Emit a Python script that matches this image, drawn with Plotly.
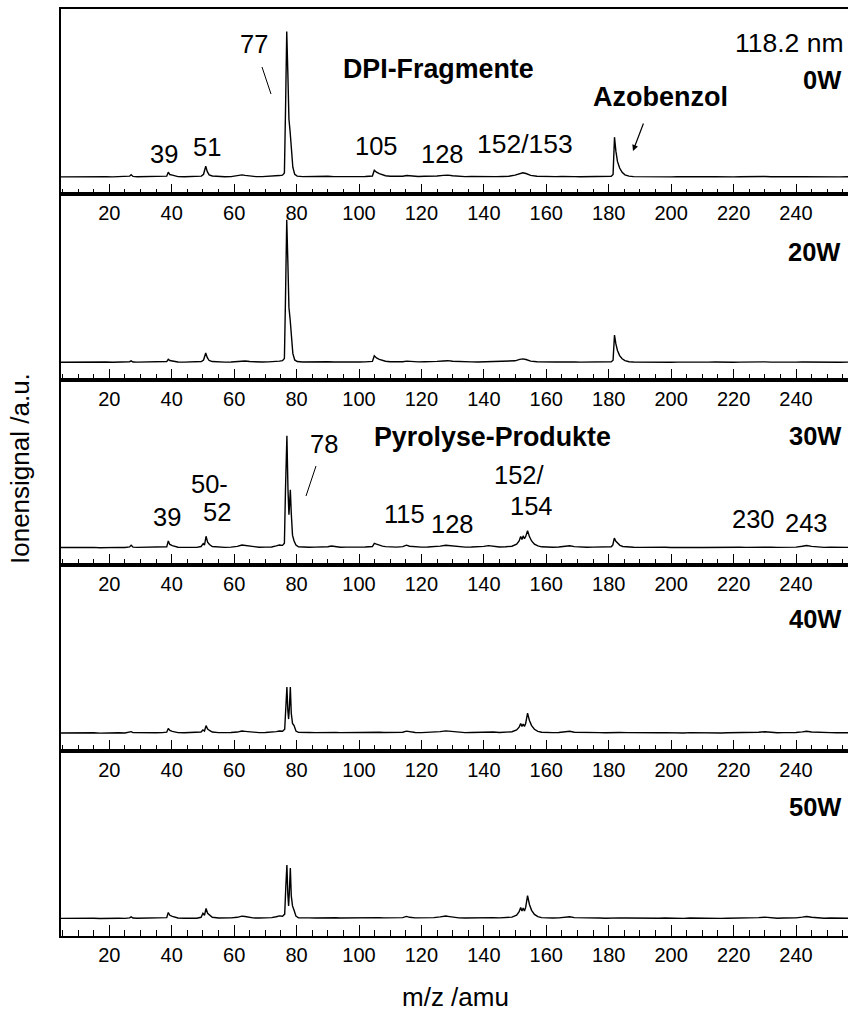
import plotly.graph_objects as go

# ---------------------------------------------------------------- data
MZ_RANGE = (4.53, 256.66)
INT_RANGE = (-11.6, 115.4)
PANEL_LABELS = ["0W", "20W", "30W", "40W", "50W"]
MAJOR_TICKS = [20, 40, 60, 80, 100, 120, 140, 160, 180, 200, 220, 240]

# (m/z, ion signal) pairs, signal normalised to the 0W m/z 77 peak = 100
SPEC_0W = [
    (4.5, 0.4), (7, 0.5), (9, 0.3), (11, 0.5), (13, 0.4), (15, 0.6), (17, 0.4), (19, 0.5),
    (21, 0.4), (23, 0.6), (25, 0.5), (26.5, 0.9), (27, 1.9), (27.6, 0.7), (29, 0.5), (31, 0.6),
    (33, 0.4), (35, 0.6), (37, 0.5), (38.4, 0.9), (38.9, 3.6), (39.4, 2.0), (40.2, 1.6),
    (41, 1.0), (42, 0.6), (44, 0.5), (46, 0.6), (48, 0.5), (49.5, 0.9), (50.2, 2.2),
    (50.9, 7.7), (51.4, 4.0), (52, 1.8), (53, 1.0), (55, 0.6), (57, 0.5), (59, 0.6),
    (61, 1.0), (62.5, 1.8), (63.5, 1.4), (65, 1.0), (67, 0.6), (69, 0.6), (71, 0.7),
    (73, 0.8), (74.5, 1.3), (75.5, 1.6), (76.1, 3.0), (76.45, 45), (76.85, 100), (77.2, 72),
    (77.55, 40), (77.95, 31), (78.35, 19), (78.8, 7), (79.4, 2.2), (80.2, 0.9), (82, 0.6),
    (84, 0.7), (86, 0.5), (88, 0.6), (90, 0.8), (92, 0.6), (94, 0.5), (96, 0.6), (98, 0.5),
    (100, 0.6), (102, 0.7), (104.3, 1.0), (104.9, 5.0), (105.6, 3.6), (106.5, 2.6),
    (107.5, 1.8), (108.5, 1.2), (110, 0.8), (112, 0.7), (114, 0.8), (115.3, 1.3), (117, 0.9),
    (119, 0.7), (121, 0.8), (123, 0.7), (125, 1.0), (127, 1.4), (128.5, 1.6), (130, 1.2),
    (132, 0.8), (134, 0.6), (136, 0.7), (138, 0.6), (140, 0.7), (142, 0.8), (144, 0.6),
    (146, 0.7), (148, 0.8), (150, 1.6), (151.5, 2.8), (152.5, 3.2), (153.5, 2.7), (155, 1.4),
    (157, 0.8), (159, 0.6), (161, 0.7), (163, 0.6), (165, 0.7), (167, 0.9), (169, 0.6),
    (171, 0.5), (173, 0.6), (175, 0.5), (177, 0.6), (179, 0.5), (180.8, 0.8), (181.4, 2.0),
    (181.85, 27.6), (182.3, 18), (182.8, 11), (183.5, 6.5), (184.3, 3.5), (185.2, 1.8),
    (186.5, 0.9), (188, 0.6), (190, 0.5), (192, 0.6), (194, 0.4), (196, 0.5), (198, 0.6),
    (200, 0.4), (202, 0.5), (204, 0.4), (206, 0.6), (208, 0.5), (210, 0.4), (212, 0.5),
    (214, 0.6), (216, 0.4), (218, 0.5), (220, 0.4), (222, 0.5), (224, 0.6), (226, 0.4),
    (228, 0.6), (230, 0.7), (232, 0.5), (234, 0.4), (236, 0.5), (238, 0.4), (240, 0.5),
    (242, 0.6), (244, 0.5), (246, 0.4), (248, 0.5), (250, 0.4), (252, 0.5), (254, 0.4),
    (256.7, 0.5),
]

SPEC_20W = [
    (4.5, 0.4), (7, 0.5), (9, 0.4), (11, 0.5), (13, 0.3), (15, 0.5), (17, 0.4), (19, 0.6),
    (21, 0.4), (23, 0.5), (25, 0.4), (26.5, 0.8), (27, 1.4), (27.6, 0.6), (29, 0.5), (31, 0.6),
    (33, 0.4), (35, 0.5), (37, 0.6), (38.4, 0.9), (38.9, 2.4), (39.4, 1.6), (40.2, 1.3),
    (41, 0.9), (42, 0.6), (44, 0.5), (46, 0.6), (48, 0.5), (49.5, 0.9), (50.2, 2.0),
    (50.9, 6.8), (51.4, 3.6), (52, 1.6), (53, 0.9), (55, 0.6), (57, 0.5), (59, 0.6),
    (61, 0.9), (62.5, 1.6), (63.5, 1.3), (65, 0.9), (67, 0.6), (69, 0.6), (71, 0.7),
    (73, 0.8), (74.5, 1.2), (75.5, 1.5), (76.1, 3.0), (76.45, 44), (76.85, 98), (77.2, 70),
    (77.55, 38), (77.95, 29.5), (78.35, 18), (78.8, 6.5), (79.4, 2.0), (80.2, 0.9), (82, 0.6),
    (84, 0.7), (86, 0.5), (88, 0.6), (90, 0.8), (92, 0.6), (94, 0.5), (96, 0.6), (98, 0.5),
    (100, 0.6), (102, 0.7), (104.3, 1.0), (104.9, 4.8), (105.6, 3.4), (106.5, 2.4),
    (107.5, 1.6), (108.5, 1.1), (110, 0.8), (112, 0.7), (114, 0.8), (115.3, 1.2), (117, 0.8),
    (119, 0.7), (121, 0.8), (123, 0.7), (125, 1.0), (127, 1.3), (128.5, 1.5), (130, 1.1),
    (132, 0.8), (134, 0.6), (136, 0.7), (138, 0.6), (140, 0.7), (142, 0.8), (144, 0.6),
    (146, 0.7), (148, 0.8), (150, 1.4), (151.5, 2.4), (152.5, 2.7), (153.5, 2.3), (155, 1.2),
    (157, 0.8), (159, 0.6), (161, 0.7), (163, 0.6), (165, 0.7), (167, 0.9), (169, 0.6),
    (171, 0.5), (173, 0.6), (175, 0.5), (177, 0.6), (179, 0.5), (180.8, 0.8), (181.4, 1.8),
    (181.85, 19), (182.3, 13), (182.8, 8.5), (183.5, 5.0), (184.3, 2.8), (185.2, 1.5),
    (186.5, 0.8), (188, 0.6), (190, 0.5), (192, 0.6), (194, 0.4), (196, 0.5), (198, 0.6),
    (200, 0.4), (202, 0.5), (204, 0.4), (206, 0.6), (208, 0.5), (210, 0.4), (212, 0.5),
    (214, 0.6), (216, 0.4), (218, 0.5), (220, 0.4), (222, 0.5), (224, 0.6), (226, 0.4),
    (228, 0.6), (230, 0.7), (232, 0.5), (234, 0.4), (236, 0.5), (238, 0.4), (240, 0.5),
    (242, 0.6), (244, 0.5), (246, 0.4), (248, 0.5), (250, 0.4), (252, 0.5), (254, 0.4),
    (256.7, 0.5),
]

SPEC_30W = [
    (4.5, 0.5), (7, 0.6), (9, 0.4), (11, 0.6), (13, 0.5), (15, 0.6), (17, 0.4), (19, 0.6),
    (21, 0.5), (23, 0.6), (25, 0.5), (26.5, 0.9), (27, 2.0), (27.6, 0.8), (29, 0.6), (31, 0.7),
    (33, 0.5), (35, 0.6), (37, 0.7), (38.4, 1.0), (38.9, 5.0), (39.4, 2.6), (40.2, 1.8),
    (41, 1.1), (42, 0.7), (44, 0.6), (46, 0.7), (48, 0.6), (49.4, 1.2), (50.1, 3.2),
    (50.5, 2.2), (51.0, 8.2), (51.5, 4.2), (52.1, 2.6), (53, 1.2), (55, 0.7), (57, 0.6),
    (59, 0.8), (61, 1.3), (62.5, 2.2), (63.5, 1.9), (64.5, 1.6), (66, 0.9), (68, 0.7),
    (70, 0.8), (72, 0.9), (73.5, 1.6), (74.5, 2.2), (75.5, 2.0), (76.1, 3.5), (76.45, 40),
    (76.9, 77), (77.25, 40), (77.55, 23), (77.75, 30), (78.0, 40), (78.3, 24), (78.7, 9),
    (79.2, 5), (79.8, 2.2), (80.6, 1.0), (82, 0.8), (84, 0.7), (86, 0.8), (88, 0.7),
    (90, 1.0), (91.2, 1.5), (92.5, 1.0), (94, 0.7), (96, 0.8), (98, 0.7), (100, 0.8),
    (102, 0.9), (104.3, 1.2), (104.9, 3.4), (105.6, 2.8), (106.5, 2.0), (107.5, 1.5),
    (108.5, 1.1), (110, 0.9), (112, 0.8), (114, 1.1), (115.2, 2.1), (116.2, 1.4), (118, 0.9),
    (120, 0.8), (122, 0.9), (124, 1.0), (126, 1.5), (127.8, 2.1), (129, 1.8), (130.5, 1.2),
    (132, 0.9), (134, 0.8), (136, 0.9), (138, 1.0), (140, 1.3), (141.5, 1.8), (143, 1.2),
    (145, 0.9), (147, 1.0), (149, 1.4), (150.5, 2.8), (151.3, 5.0), (151.8, 8.0),
    (152.2, 6.0), (152.6, 8.5), (153.0, 6.5), (153.4, 8.0), (154.0, 12.0), (154.6, 8.0),
    (155.3, 5.0), (156.2, 2.8), (157.3, 1.6), (158.5, 1.0), (160, 0.8), (162, 0.7),
    (164, 0.9), (165.5, 1.3), (167.5, 1.7), (169, 1.1), (171, 0.8), (173, 0.7), (175, 0.8),
    (177, 0.7), (179, 0.7), (180.8, 1.0), (181.3, 2.2), (181.8, 7.0), (182.3, 4.8),
    (182.9, 3.2), (183.6, 2.0), (184.5, 1.2), (186, 0.8), (188, 0.7), (190, 0.6), (192, 0.7),
    (194, 0.5), (196, 0.6), (198, 0.7), (200, 0.5), (202, 0.6), (204, 0.5), (206, 0.7),
    (208, 0.6), (210, 0.5), (212, 0.6), (214, 0.7), (216, 0.5), (218, 0.6), (220, 0.6),
    (222, 0.7), (224, 0.6), (226, 0.7), (228, 0.9), (230, 1.2), (232, 0.8), (234, 0.6),
    (236, 0.7), (238, 0.6), (240, 0.8), (242, 1.4), (243.4, 1.9), (245, 1.3), (247, 0.8),
    (249, 0.6), (251, 0.7), (253, 0.6), (255, 0.7), (256.7, 0.6),
]

SPEC_40W = [
    (4.5, 0.5), (7, 0.6), (9, 0.4), (11, 0.6), (13, 0.5), (15, 0.6), (17, 0.4), (19, 0.6),
    (21, 0.5), (23, 0.6), (25, 0.5), (26.5, 0.8), (27, 1.4), (27.6, 0.7), (29, 0.6), (31, 0.6),
    (33, 0.5), (35, 0.6), (37, 0.7), (38.4, 1.0), (38.9, 3.6), (39.4, 2.2), (40.2, 1.6),
    (41, 1.1), (42, 0.7), (44, 0.6), (46, 0.7), (48, 0.6), (49.4, 1.1), (50.0, 2.5),
    (50.5, 1.8), (51.0, 5.5), (51.5, 3.2), (52.1, 2.2), (53, 1.1), (55, 0.7), (57, 0.6),
    (59, 0.8), (61, 1.1), (62.5, 1.8), (63.5, 1.6), (64.5, 1.3), (66, 0.8), (68, 0.7),
    (70, 0.8), (72, 0.9), (73.5, 1.4), (74.5, 1.8), (75.5, 1.7), (76.2, 3.0), (76.55, 18),
    (76.9, 32), (77.2, 16), (77.45, 10), (77.7, 18), (78.0, 32), (78.3, 14), (78.7, 7),
    (79.2, 5.5), (79.8, 1.8), (80.6, 0.9), (82, 0.7), (84, 0.8), (86, 0.7), (88, 0.8),
    (90, 0.9), (91.2, 1.3), (92.5, 0.9), (94, 0.7), (96, 0.8), (98, 0.7), (100, 0.8),
    (102, 0.9), (104, 1.1), (105.2, 1.4), (106.5, 1.0), (108, 0.8), (110, 0.8), (112, 0.7),
    (114, 1.0), (115.2, 1.7), (116.2, 1.2), (118, 0.8), (120, 0.7), (122, 0.8), (124, 1.0),
    (126, 1.4), (127.8, 1.9), (129, 1.6), (130.5, 1.1), (132, 0.8), (134, 0.7), (136, 0.8),
    (138, 0.9), (140, 1.2), (141.5, 1.5), (143, 1.1), (145, 0.8), (147, 0.9), (149, 1.3),
    (150.5, 2.5), (151.3, 4.5), (151.8, 7.0), (152.2, 5.0), (152.6, 6.5), (153.0, 5.0),
    (153.4, 7.0), (154.0, 14.0), (154.6, 9.0), (155.3, 5.5), (156.2, 3.0), (157.3, 1.6),
    (158.5, 1.0), (160, 0.8), (162, 0.7), (164, 0.8), (165.5, 1.1), (167.5, 1.6), (169, 1.0),
    (171, 0.8), (173, 0.7), (175, 0.8), (177, 0.7), (179, 0.6), (181, 0.8), (182, 1.1),
    (183.5, 0.8), (186, 0.7), (188, 0.6), (190, 0.6), (192, 0.7), (194, 0.5), (196, 0.6),
    (198, 0.7), (200, 0.5), (202, 0.6), (204, 0.5), (206, 0.7), (208, 0.6), (210, 0.5),
    (212, 0.6), (214, 0.7), (216, 0.5), (218, 0.6), (220, 0.6), (222, 0.7), (224, 0.6),
    (226, 0.8), (228, 1.0), (230, 1.3), (232, 0.9), (234, 0.6), (236, 0.7), (238, 0.6),
    (240, 0.8), (242, 1.2), (243.4, 1.6), (245, 1.1), (247, 0.8), (249, 0.6), (251, 0.7),
    (253, 0.6), (255, 0.7), (256.7, 0.6),
]

SPEC_50W = [
    (4.5, 0.5), (7, 0.6), (9, 0.4), (11, 0.6), (13, 0.5), (15, 0.6), (17, 0.4), (19, 0.6),
    (21, 0.5), (23, 0.6), (25, 0.5), (26.5, 0.8), (27, 1.5), (27.6, 0.7), (29, 0.6), (31, 0.6),
    (33, 0.5), (35, 0.6), (37, 0.7), (38.4, 1.0), (38.9, 4.5), (39.4, 2.6), (40.2, 1.8),
    (41, 1.1), (42, 0.7), (44, 0.6), (46, 0.7), (48, 0.6), (49.4, 1.2), (50.0, 4.0),
    (50.5, 2.6), (51.0, 7.3), (51.5, 4.0), (52.1, 2.6), (53, 1.2), (55, 0.7), (57, 0.6),
    (59, 0.8), (61, 1.2), (62.5, 2.0), (63.5, 1.8), (64.5, 1.4), (66, 0.8), (68, 0.7),
    (70, 0.8), (72, 1.0), (73.5, 1.6), (74.5, 2.2), (75.5, 2.0), (76.2, 3.4), (76.55, 22),
    (76.9, 37), (77.2, 17), (77.45, 9), (77.7, 19), (78.0, 35), (78.3, 16), (78.7, 9),
    (79.2, 6.0), (79.8, 2.0), (80.6, 0.9), (82, 0.7), (84, 0.8), (86, 0.7), (88, 0.8),
    (90, 0.9), (91.2, 1.2), (92.5, 0.9), (94, 0.7), (96, 0.8), (98, 0.7), (100, 0.8),
    (102, 0.9), (104, 1.1), (105.2, 1.3), (106.5, 1.0), (108, 0.8), (110, 0.8), (112, 0.7),
    (114, 1.0), (115.2, 1.8), (116.2, 1.2), (118, 0.8), (120, 0.7), (122, 0.8), (124, 1.0),
    (126, 1.5), (127.8, 2.1), (129, 1.7), (130.5, 1.1), (132, 0.8), (134, 0.7), (136, 0.8),
    (138, 0.9), (140, 1.1), (141.5, 1.4), (143, 1.0), (145, 0.8), (147, 0.9), (149, 1.3),
    (150.5, 2.6), (151.3, 5.0), (151.8, 8.0), (152.2, 5.5), (152.6, 7.5), (153.0, 5.5),
    (153.4, 8.0), (154.0, 16.0), (154.6, 10.0), (155.3, 6.0), (156.2, 3.2), (157.3, 1.7),
    (158.5, 1.0), (160, 0.8), (162, 0.7), (164, 0.8), (165.5, 1.1), (167.5, 1.6), (169, 1.0),
    (171, 0.8), (173, 0.7), (175, 0.8), (177, 0.7), (179, 0.6), (181, 0.8), (182, 1.0),
    (183.5, 0.8), (186, 0.7), (188, 0.6), (190, 0.6), (192, 0.7), (194, 0.5), (196, 0.6),
    (198, 0.7), (200, 0.5), (202, 0.6), (204, 0.5), (206, 0.7), (208, 0.6), (210, 0.5),
    (212, 0.6), (214, 0.7), (216, 0.5), (218, 0.6), (220, 0.6), (222, 0.7), (224, 0.6),
    (226, 0.8), (228, 1.0), (230, 1.3), (232, 0.9), (234, 0.6), (236, 0.7), (238, 0.6),
    (240, 0.8), (242, 1.3), (243.4, 1.8), (245, 1.2), (247, 0.8), (249, 0.6), (251, 0.7),
    (253, 0.6), (255, 0.7), (256.7, 0.6),
]

SPECTRA = [SPEC_0W, SPEC_20W, SPEC_30W, SPEC_40W, SPEC_50W]

# ---------------------------------------------------------------- layout
W, H = 848, 1012
ML, MR, MT, MB = 61, 0, 9, 76
PW, PH = W - ML - MR, H - MT - MB
FONT = "Arial, Liberation Sans, sans-serif"
N = len(SPECTRA)


def px(x):
    return (x - ML) / PW


def py(y):
    return (H - MB - y) / PH


fig = go.Figure()
layout = {}
for i, spec in enumerate(SPECTRA):
    k = i + 1
    sfx = "" if k == 1 else str(k)
    xs = [p[0] for p in spec]
    ys = [p[1] for p in spec]
    fig.add_trace(go.Scatter(
        x=xs, y=ys, mode="lines", showlegend=False, hoverinfo="skip",
        line=dict(color="black", width=1.4),
        xaxis="x" + sfx, yaxis="y" + sfx,
    ))
    top = 1 - i / N
    bottom = 1 - (i + 1) / N
    layout["xaxis" + sfx] = dict(
        domain=[0, 1], anchor="y" + sfx, range=list(MZ_RANGE),
        showline=True, linecolor="black", linewidth=1.8, mirror=True,
        ticks="inside", ticklen=11, tickwidth=1.4, tickcolor="black",
        tickmode="array", tickvals=MAJOR_TICKS, ticktext=[str(t) for t in MAJOR_TICKS],
        tickfont=dict(family=FONT, size=20, color="black"),
        minor=dict(dtick=5, tick0=0, ticks="inside", ticklen=6, tickwidth=1.3,
                   tickcolor="black", showgrid=False),
        showgrid=False, zeroline=False,
    )
    layout["yaxis" + sfx] = dict(
        domain=[bottom, top], anchor="x" + sfx, range=list(INT_RANGE),
        showline=True, linecolor="black", linewidth=1.8, mirror=False,
        showticklabels=False, ticks="", showgrid=False, zeroline=False,
    )

fig.update_layout(**layout)


def label(text, x, y, size=25.5, bold=False):
    t = f"<b>{text}</b>" if bold else text
    return dict(text=t, x=px(x), y=py(y), xref="paper", yref="paper",
                xanchor="center", yanchor="middle", showarrow=False,
                font=dict(family=FONT, size=size, color="black"))


annotations = [
    # panel markers
    label("118.2 nm", 789, 43, size=26.5),
    label(PANEL_LABELS[0], 822, 80, bold=True),
    label(PANEL_LABELS[1], 814, 252, bold=True),
    label(PANEL_LABELS[2], 815, 436, bold=True),
    label(PANEL_LABELS[3], 815, 619, bold=True),
    label(PANEL_LABELS[4], 815, 807, bold=True),
    # 0W assignments
    label("DPI-Fragmente", 438, 69, size=26.8, bold=True),
    label("Azobenzol", 660, 97, size=27, bold=True),
    label("77", 254, 44),
    label("39", 164, 154),
    label("51", 207, 147),
    label("105", 376, 146),
    label("128", 442, 154),
    label("152/153", 525, 144, size=26.5),
    # 30W assignments
    label("Pyrolyse-Produkte", 492, 437, size=26.8, bold=True),
    label("78", 324, 444),
    label("39", 167, 517),
    label("50-", 209, 484),
    label("52", 217, 512),
    label("115", 404, 514),
    label("128", 452, 524),
    label("152/", 519, 475),
    label("154", 531, 506),
    label("230", 753, 519),
    label("243", 806, 523),
    # axis titles
    dict(text="m/z /amu", x=px(456), y=py(997), xref="paper", yref="paper",
         xanchor="center", yanchor="middle", showarrow=False,
         font=dict(family=FONT, size=26, color="black")),
    dict(text="Ionensignal /a.u.", x=px(20), y=py(469), xref="paper", yref="paper",
         xanchor="center", yanchor="middle", showarrow=False, textangle=-90,
         font=dict(family=FONT, size=26, color="black")),
    # arrow pointing to the azobenzene peak
    dict(text="", x=px(633), y=py(151), xref="paper", yref="paper",
         ax=11, ay=-29, axref="pixel", ayref="pixel", showarrow=True,
         arrowhead=2, arrowsize=1, arrowwidth=1.2, arrowcolor="black"),
]

shapes = [
    dict(type="line", xref="paper", yref="paper", x0=px(262), y0=py(67), x1=px(271), y1=py(94),
         line=dict(color="black", width=1)),
    dict(type="line", xref="paper", yref="paper", x0=px(316), y0=py(466), x1=px(306), y1=py(496),
         line=dict(color="black", width=1)),
]

fig.update_layout(
    width=W, height=H,
    margin=dict(l=ML, r=MR, t=MT, b=MB, pad=0),
    paper_bgcolor="white", plot_bgcolor="white",
    annotations=annotations, shapes=shapes,
    showlegend=False,
)

fig.write_html("out.html")
